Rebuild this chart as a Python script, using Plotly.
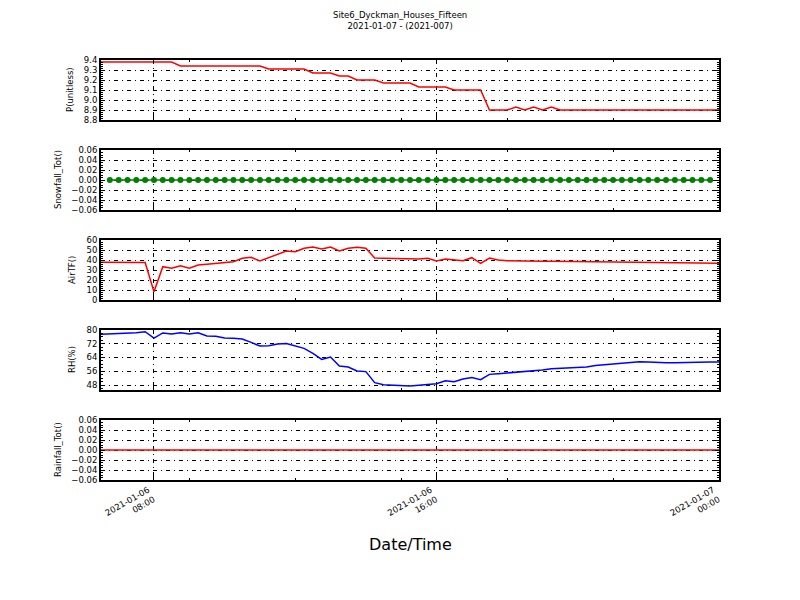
import pandas as pd
import plotly.graph_objects as go

# ---- data ----
times = pd.date_range("2021-01-06 06:30", "2021-01-07 00:00", freq="15min")

p_unitless = ([9.38] * 9 + [9.34] * 10 + [9.31] * 5 + [9.27] * 3 + [9.24] * 2 +
              [9.20] * 3 + [9.17] * 4 + [9.13] * 4 + [9.10] * 4 + [8.90] * 3 +
              [8.93, 8.90, 8.93, 8.90, 8.93] + [8.90] * 19)

snowfall = [None] + [0.0] * 69 + [None]

air_tf = [37.7, 37.7, 37.7, 37.7, 37.7, 37.5, 8.3, 33.3, 31.7, 34.3,
          31.7, 35.0, 35.7, 36.7, 38.0, 38.3, 41.7, 42.7, 39.0, 42.3,
          45.7, 49.0, 48.3, 51.7, 53.0, 51.0, 53.0, 49.0, 51.7, 52.7,
          51.7, 42.0, 41.7, 41.5, 41.3, 41.0, 41.0, 41.7, 39.0, 41.0,
          40.0, 39.3, 42.3, 36.7, 42.0, 40.0, 39.3, 39.0, 38.9, 38.8,
          38.7, 38.7, 38.6, 38.5, 38.4, 38.3, 38.2, 38.1, 38.1, 38.0,
          38.0, 37.9, 37.9, 37.8, 37.8, 37.7, 37.5, 37.3, 37.0, 36.7,
          36.7]

rh = [77.5, 77.7, 78.1, 78.1, 78.4, 79.0, 75.3, 78.3, 77.7, 78.4,
      77.7, 78.4, 76.5, 76.3, 75.3, 75.2, 74.8, 72.8, 70.7, 70.9,
      71.9, 72.1, 70.9, 69.3, 66.4, 62.9, 64.3, 59.1, 58.5, 56.2,
      55.8, 49.4, 48.2, 48.0, 47.8, 47.4, 47.8, 48.2, 48.8, 50.5,
      49.9, 51.5, 52.3, 51.1, 54.2, 54.6, 55.0, 55.4, 55.6, 56.4,
      56.7, 57.5, 57.7, 57.9, 58.1, 58.5, 59.3, 59.8, 60.2, 60.8,
      61.2, 61.6, 61.4, 61.0, 61.0, 61.0, 61.2, 61.4, 61.6, 61.4,
      61.4]

rainfall = [0.0] * 71

x_tickvals = ["2021-01-06 08:00", "2021-01-06 16:00", "2021-01-07 00:00"]
x_ticktext = ["2021-01-06<br>08:00", "2021-01-06<br>16:00", "2021-01-07<br>00:00"]

title_line1 = "Site6_Dyckman_Houses_Fifteen"
title_line2 = "2021-01-07 - (2021-007)"
y_labels = ["P(unitless)", "Snowfall_Tot()", "AirTF()", "RH(%)", "Rainfall_Tot()"]

# ---- figure ----
OFF = 8                      # browser body margin
W, H = 800 - OFF, 600 - OFF
FONT = "DejaVu Sans"


def fx(px):
    return (px - OFF) / W


def fy(py):
    return 1 - (py - OFF) / H


x_dom = [fx(101), fx(719)]
panels_px = [(60, 120), (150, 210), (240, 300), (330, 390), (420, 480)]
label_x_px = [70, 58, 72, 72, 58]
y_ranges = [[8.8, 9.4], [-0.06, 0.06], [0, 60], [45.1, 80], [-0.06, 0.06]]
y_dticks = [0.1, 0.02, 10, 8, 0.02]
y_minor = [0.02, 0.005, 2, 2, 0.005]
y_fmt = [".1f", ".2f", "d", "d", ".2f"]
y_tick0 = [8.8, -0.06, 0, 48, -0.06]

fig = go.Figure()

series = [
    (p_unitless, "#ff0000", None),
    (snowfall, "#008000", "marker"),
    (air_tf, "#ff0000", None),
    (rh, "#0000ff", None),
    (rainfall, "#ff0000", None),
]

for k, (vals, col, mk) in enumerate(series):
    ax = "" if k == 0 else str(k + 1)
    fig.add_trace(go.Scatter(
        x=times, y=vals, mode="lines+markers" if mk else "lines",
        line=dict(color=col, width=1.5),
        marker=dict(color=col, size=6) if mk else None,
        xaxis="x" + ax, yaxis="y" + ax, showlegend=False,
    ))

griddash = "4px,4px,1px,4px"
layout = dict(
    width=W, height=H, margin=dict(l=0, r=0, t=0, b=0, autoexpand=False),
    paper_bgcolor="white", plot_bgcolor="white",
    font=dict(family=FONT, size=9, color="black"),
)

for k in range(5):
    ax = "" if k == 0 else str(k + 1)
    top, bot = panels_px[k]
    layout["xaxis" + ax] = dict(
        domain=x_dom, anchor="y" + ax, automargin=False,
        range=["2021-01-06 06:30", "2021-01-07 00:00"],
        type="date",
        tickvals=x_tickvals, ticktext=x_ticktext,
        showticklabels=(k == 4), tickangle=-30, ticklabelshift=-6,
        tickfont=dict(family=FONT, size=8.5),
        ticks="inside", ticklen=4, tickcolor="black", tickwidth=1,
        showline=True, linecolor="black", linewidth=1.8, mirror="ticks",
        showgrid=True, gridcolor="black", gridwidth=0.5, griddash=griddash,
        zeroline=False,
        minor=dict(ticks="inside", ticklen=2, tickcolor="black",
                   tick0="2021-01-06 00:00", dtick=3 * 3600 * 1000,
                   showgrid=False),
    )
    if k != 0:
        layout["xaxis" + ax]["matches"] = "x"
    layout["yaxis" + ax] = dict(
        domain=[fy(bot), fy(top)], anchor="x" + ax, automargin=False,
        range=y_ranges[k], tick0=y_tick0[k], dtick=y_dticks[k],
        tickformat=y_fmt[k], tickfont=dict(family=FONT, size=8.5),
        ticks="inside", ticklen=4, tickcolor="black",
        showline=True, linecolor="black", linewidth=1.8, mirror="ticks",
        showgrid=True, gridcolor="black", gridwidth=0.5, griddash=griddash,
        zeroline=False,
        minor=dict(ticks="inside", ticklen=2, tickcolor="black",
                   dtick=y_minor[k], showgrid=False),
    )

fig.update_layout(**layout)

annotations = [
    dict(text=title_line1 + "<br>" + title_line2, x=fx(400), y=fy(21),
         xref="paper", yref="paper", showarrow=False, xanchor="center",
         yanchor="middle", font=dict(family=FONT, size=8.5)),
    dict(text="Date/Time", x=fx(410), y=fy(544), xref="paper", yref="paper",
         showarrow=False, xanchor="center", yanchor="middle",
         font=dict(family=FONT, size=16)),
]
for k, lab in enumerate(y_labels):
    top, bot = panels_px[k]
    annotations.append(dict(
        text=lab, x=fx(label_x_px[k]), y=fy((top + bot) / 2), xref="paper",
        yref="paper", showarrow=False, textangle=-90, xanchor="center",
        yanchor="middle", font=dict(family=FONT, size=8.5)))
fig.update_layout(annotations=annotations)

fig.write_html("out.html")
